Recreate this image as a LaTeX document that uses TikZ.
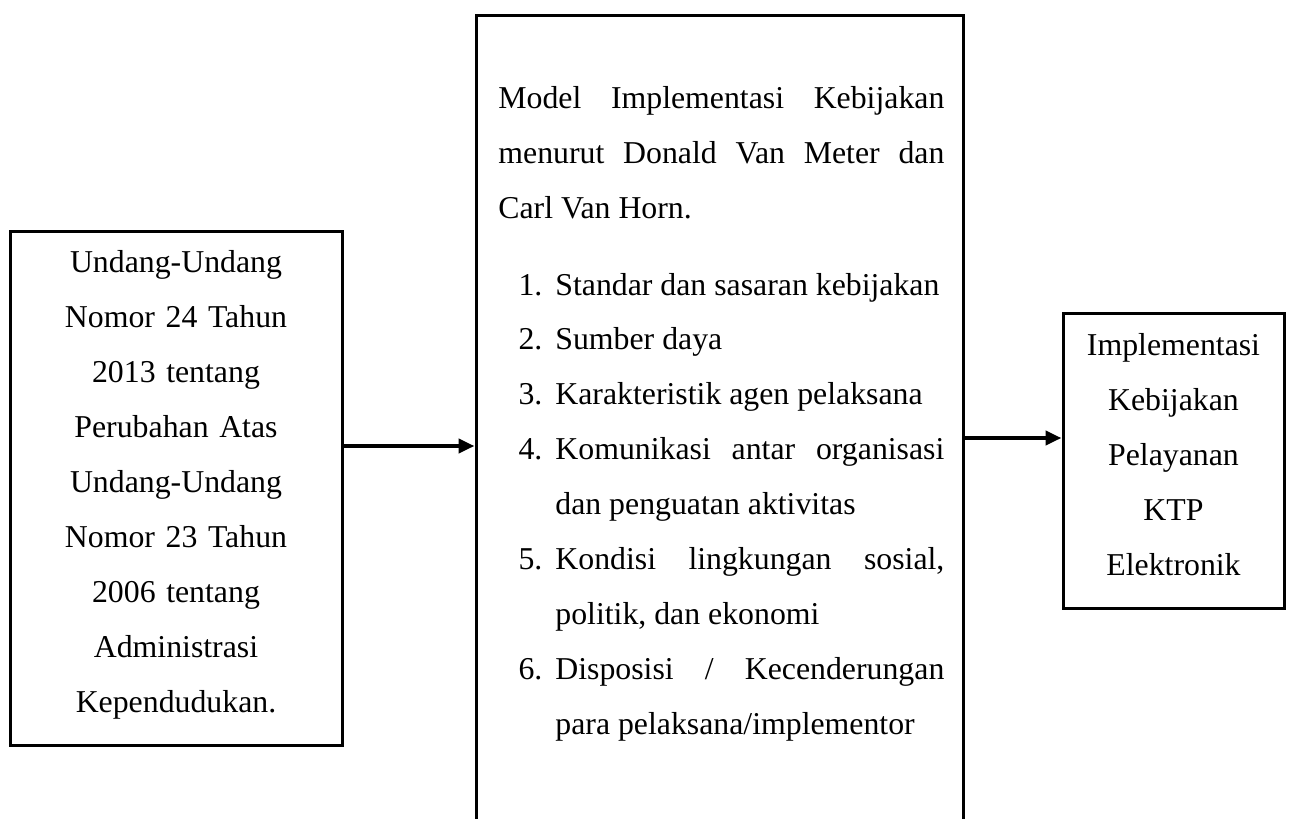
\documentclass[tikz,border=0pt]{standalone}
\usepackage{fontspec}
\setmainfont{Liberation Serif}
\usetikzlibrary{arrows.meta}
\newcounter{mitem}
\begin{document}
\begin{tikzpicture}[x=0.5pt,y=-0.5pt,
  box/.style={draw=black, line width=1.5pt, inner sep=0pt, rectangle},
  arr/.style={line width=2pt, -{Triangle[length=8pt,width=7pt]}},
  txt/.style={inner sep=0pt, font=\fontsize{15.9}{27.5}\selectfont}]
\useasboundingbox (0,0) rectangle (1292,819);
\clip (0,0) rectangle (1292,819);
% boxes
\node[box, minimum width=166pt, minimum height=257pt] (lbox) at (176,488) {};
\node[box, minimum width=243.5pt, minimum height=442.5pt] (mbox) at (719.5,457.5) {};
\node[box, minimum width=110.5pt, minimum height=147.5pt] (rbox) at (1173.5,460.5) {};
% texts
\node[txt, text width=160pt, align=center, anchor=base] (ltxt) at (176,272)
  {Undang-Undang\\Nomor 24 Tahun\\2013 tentang\\Perubahan Atas\\Undang-Undang\\Nomor 23 Tahun\\2006 tentang\\Administrasi\\Kependudukan.};
\node[txt, text width=108pt, align=center, anchor=base] (rtxt) at (1173.5,355)
  {Implementasi\\Kebijakan\\Pelayanan\\KTP\\Elektronik};
\node[txt, text width=223pt, align=justify, anchor=base west] (mtxt) at (498,108) {%
\hyphenpenalty=10000\exhyphenpenalty=10000
Model Implementasi Kebijakan\linebreak menurut Donald Van Meter dan\linebreak Carl Van Horn.\par
\vspace{11pt}%
\begin{list}{\arabic{mitem}.}{\usecounter{mitem}\setlength{\leftmargin}{28.5pt}\setlength{\labelwidth}{22pt}\setlength{\labelsep}{6.5pt}\setlength{\topsep}{0pt}\setlength{\partopsep}{0pt}\setlength{\itemsep}{0pt}\setlength{\parsep}{0pt}}
\item Standar dan sasaran kebijakan
\item Sumber daya
\item Karakteristik agen pelaksana
\item Komunikasi antar organisasi\linebreak dan penguatan aktivitas
\item Kondisi lingkungan sosial,\linebreak politik, dan ekonomi
\item Disposisi / Kecenderungan\linebreak para pelaksana/implementor
\end{list}};
% connectors
\coordinate (ya) at (0,446);
\coordinate (yb) at (0,438);
\draw[arr] (lbox.east |- ya) -- (mbox.west |- ya);
\draw[arr] (mbox.east |- yb) -- (rbox.west |- yb);
\end{tikzpicture}
\end{document}
